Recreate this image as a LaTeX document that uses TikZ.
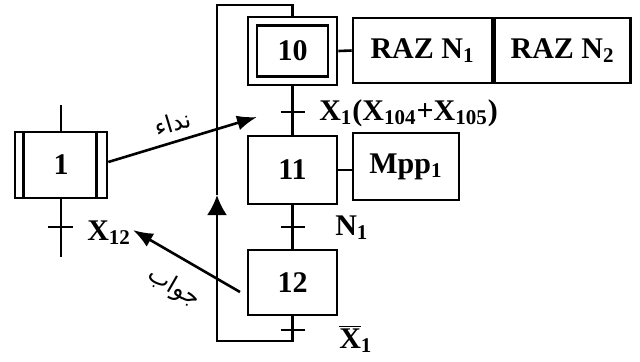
\documentclass[tikz,border=0pt]{standalone}
\usepackage{fontspec}
\setmainfont{Liberation Serif}
\newfontfamily\arabicfont[Script=Arabic]{DejaVu Sans}
\TeXXeTstate=1
\usetikzlibrary{arrows.meta,positioning,calc}

\newcommand{\idx}[1]{\textsubscript{#1}}

\begin{document}
\begin{tikzpicture}[x=0.5pt, y=-0.5pt, line width=1.3pt,
  every node/.style={font=\fontsize{15}{18}\selectfont\bfseries},
  stepbox/.style={draw, rectangle, minimum width=44.5pt, minimum height=34pt, inner sep=0pt},
  actbox/.style={draw, rectangle, minimum height=32.5pt, inner sep=0pt},
  msg/.style={-{Latex[length=10pt,width=7.5pt]}},
  arlabel/.style={font=\arabicfont\fontsize{12}{14}\selectfont, sloped, inner sep=1pt}]
  \useasboundingbox (0,0) rectangle (640,361);

  % Grafcet of the called task
  \node[stepbox] (step10) at (292.5,51) {};
  \node[draw, rectangle, minimum width=35.5pt, minimum height=25.5pt] (step10in) at (step10) {10};
  \node[stepbox] (step11) at (292.5,170) {11};
  \node[stepbox, minimum height=32.5pt] (step12) at (292.5,282.5) {12};

  \node[actbox, minimum width=69.5pt] (raz1) at (422.5,50.5) {RAZ N\idx{1}};
  \node[actbox, minimum width=68pt, right=0pt of raz1] (raz2) {RAZ N\idx{2}};
  \node[actbox, minimum width=53pt, minimum height=33.5pt] (mpp) at (406,166.5) {Mpp\idx{1}};

  \draw (step10.east) -- (raz1.west);
  \draw (step11.east) -- (step11.east -| mpp.west);

  % links and transitions
  \coordinate (t10) at (292.5,112);
  \coordinate (t11) at (292.5,227);
  \coordinate (t12) at (292.5,330);
  \draw (step10.south) -- (step11.north);
  \draw (step11.south) -- (step12.north);
  \foreach \t in {t10,t11,t12}
    \draw ($(\t)+(-12,0)$) -- ($(\t)+(12,0)$);

  \node[anchor=west, inner sep=0pt] (c10) at (318,113) {X\idx{1}(X\idx{104}+X\idx{105})};
  \node[anchor=west, inner sep=0pt] (c11) at (334,228) {N\idx{1}};
  \node[anchor=west, inner sep=0pt] (c12) at (338,339) {$\overline{\mbox{\bfseries X}}$\idx{1}};

  % loop back to step 10
  \coordinate (lb) at (292.5,341);
  \coordinate (lt) at (292.5,5);
  \coordinate (up) at (217,195);
  \draw[-{Latex[length=10pt,width=10pt]}] (step12.south) -- (lb) -- (lb -| up) -- (up);
  \draw (up) -- (up |- lt) -- (lt) -- (step10.north);

  % calling task
  \node[stepbox, minimum width=46pt, minimum height=33pt] (step1) at (61,165) {1};
  \draw ([xshift=5pt]step1.north west) -- ([xshift=5pt]step1.south west);
  \draw ([xshift=-6pt]step1.north east) -- ([xshift=-6pt]step1.south east);
  \coordinate (s1top) at (61,105);
  \coordinate (s1bot) at (61,257);
  \coordinate (t1) at (61,227);
  \draw (s1top) -- (step1.north);
  \draw (step1.south) -- (s1bot);
  \draw ($(t1)+(-13,0)$) -- ($(t1)+(12,0)$);
  \node[anchor=west, inner sep=0pt] (c1) at (86,233) {X\idx{12}};

  % call and answer
  \coordinate (callend) at (257,117);
  \coordinate (ansstart) at (240,292);
  \coordinate (ansend) at (133,230);
  \draw[msg] (step1.east |- 0,162) -- node[arlabel, above=3pt, pos=0.47] {\beginR نداء\endR} (callend);
  \draw[msg] (ansstart) -- node[arlabel, below=7pt, pos=0.48] {\beginR جواب\endR} (ansend);
\end{tikzpicture}
\end{document}
